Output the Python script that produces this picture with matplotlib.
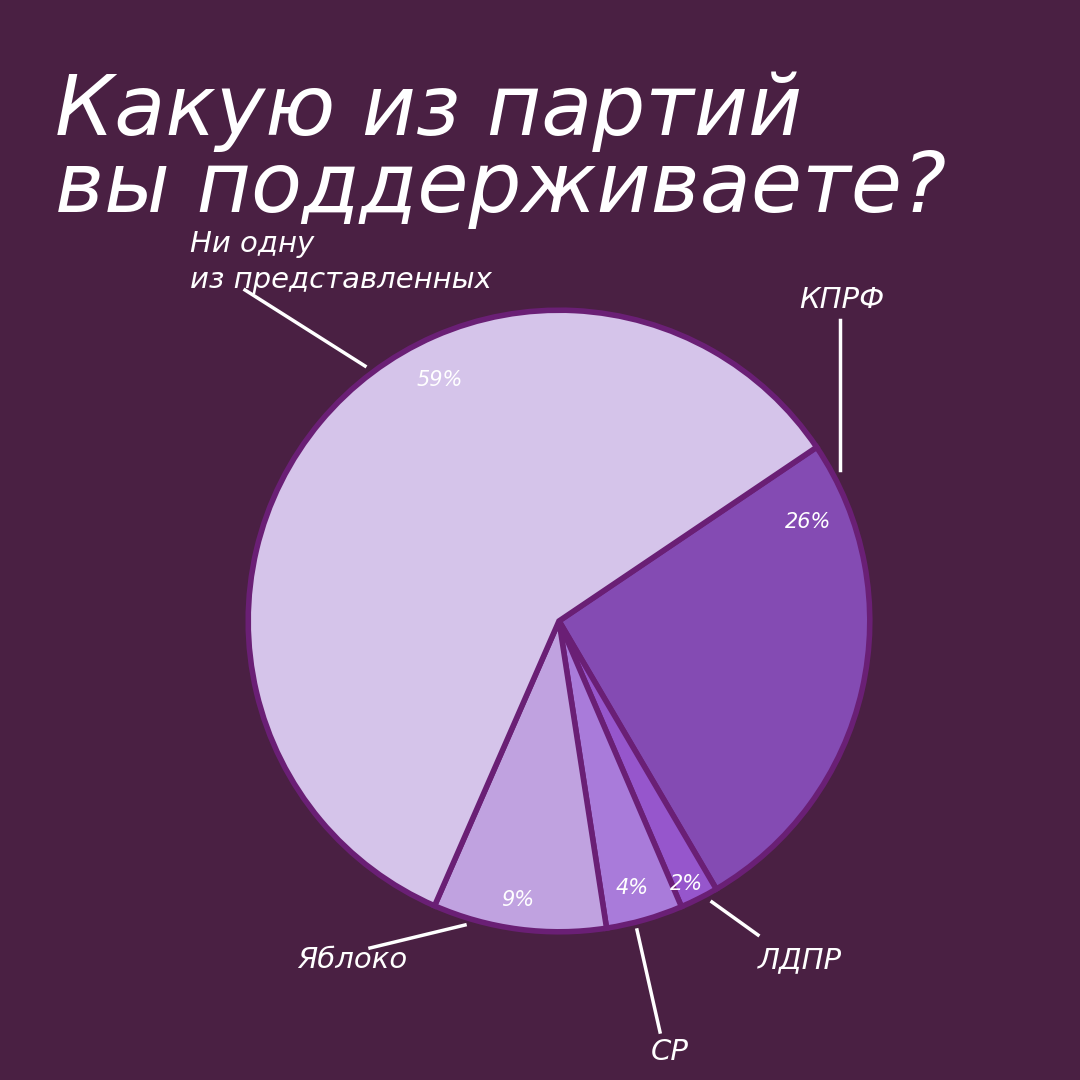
import matplotlib.pyplot as plt

# data
parties = ["КПРФ", "ЛДПР", "СР", "Яблоко", "Ни одну\nиз представленных"]
shares = [26, 2, 4, 9, 59]
colors = ["#844BB3", "#9656CC", "#A97BDA", "#C0A2E0", "#D5C4EA"]

bg = "#4A2043"
fig = plt.figure(figsize=(10.8, 10.8), dpi=100, facecolor=bg)
ax = fig.add_axes([242/1080, 1 - 938/1080, 634/1080, 634/1080])
ax.set_facecolor(bg)
ax.pie(shares, colors=colors, startangle=34, counterclock=False,
       wedgeprops=dict(edgecolor="#6A1F75", linewidth=4))
ax.set_xlim(-1.02, 1.02)
ax.set_ylim(-1.02, 1.02)
ax.set_aspect("equal")

# percent labels (figure px coords)
pct_pos = [(808, 522), (686, 884), (632, 888), (518, 900), (440, 380)]
for (x, y), v in zip(pct_pos, shares):
    fig.text(x/1080, 1 - y/1080, f"{v}%", color="white", fontsize=15,
             style="italic", ha="center", va="center")

# leader lines
lines = [
    [(840, 320), (840, 470)],
    [(712, 902), (758, 935)],
    [(637, 930), (660, 1032)],
    [(465, 925), (370, 948)],
    [(245, 290), (365, 366)],
]
for pts in lines:
    xs = [p[0]/1080 for p in pts]
    ys = [1 - p[1]/1080 for p in pts]
    fig.add_artist(plt.Line2D(xs, ys, color="white", lw=2.5))

name_pos = [(842, 300, "center"), (800, 960, "center"), (670, 1052, "center"),
            (352, 960, "center"), (190, 262, "left")]
for (x, y, ha), name in zip(name_pos, parties):
    fig.text(x/1080, 1 - y/1080, name, color="white", fontsize=21,
             style="italic", ha=ha, va="center", linespacing=1.4)

fig.text(55/1080, 1 - 150/1080, "Какую из партий\nвы поддерживаете?", color="white",
         fontsize=60, style="italic", fontweight="medium", ha="left", va="center",
         linespacing=0.95)

fig.savefig("out.png", dpi=100, facecolor=bg)
